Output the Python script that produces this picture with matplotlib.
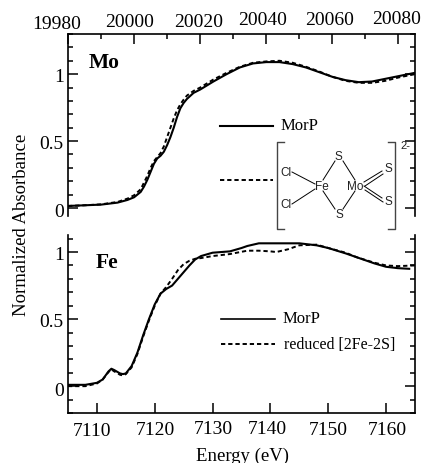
#!/usr/bin/env python3

import matplotlib
matplotlib.use("Agg")
import matplotlib.pyplot as plt
from matplotlib.ticker import MultipleLocator, FixedLocator
from matplotlib.transforms import ScaledTranslation

plt.rcParams["font.family"] = ["Liberation Serif", "DejaVu Serif"]

W, H = 423, 464

# Mo K edge
mo_solid_e = [19980, 19985, 19990, 19995, 19998, 20000, 20002, 20003, 20004, 20005, 20006, 20007, 20008,
              20009, 20010, 20011, 20012, 20013, 20014, 20015, 20016, 20018, 20020, 20024, 20028, 20032,
              20036, 20040, 20044, 20048, 20052, 20056, 20060, 20064, 20068, 20072, 20076, 20080, 20085]
mo_solid_a = [0.015, 0.02, 0.025, 0.04, 0.06, 0.08, 0.12, 0.16, 0.21, 0.27, 0.33, 0.37, 0.39,
              0.42, 0.47, 0.53, 0.60, 0.68, 0.745, 0.785, 0.815, 0.86, 0.885, 0.945, 1.00, 1.05,
              1.08, 1.09, 1.09, 1.075, 1.05, 1.015, 0.98, 0.955, 0.94, 0.945, 0.965, 0.985, 1.01]
mo_dash_e = [19980, 19985, 19990, 19995, 19998, 20000, 20002, 20003, 20004, 20005, 20006, 20007, 20008,
             20009, 20010, 20011, 20012, 20013, 20014, 20015, 20016, 20018, 20020, 20024, 20028, 20032,
             20036, 20040, 20044, 20048, 20052, 20056, 20060, 20064, 20068, 20072, 20076, 20080, 20085]
mo_dash_a = [0.015, 0.02, 0.027, 0.045, 0.07, 0.095, 0.14, 0.19, 0.24, 0.30, 0.35, 0.38, 0.41,
             0.46, 0.53, 0.60, 0.67, 0.73, 0.775, 0.81, 0.84, 0.875, 0.90, 0.96, 1.01, 1.055,
             1.085, 1.095, 1.10, 1.085, 1.055, 1.02, 0.98, 0.95, 0.935, 0.935, 0.95, 0.975, 1.00]

# Fe K edge
fe_solid_e = [7105, 7108, 7110, 7111, 7112, 7112.5, 7113, 7114, 7114.5, 7115, 7116, 7117, 7118, 7119, 7120,
              7121, 7122, 7123, 7124, 7125, 7126, 7127, 7128, 7130, 7133, 7135, 7136, 7138, 7142,
              7145, 7148, 7150, 7153, 7155, 7158, 7160, 7162, 7164]
fe_solid_a = [0.01, 0.01, 0.025, 0.05, 0.11, 0.13, 0.12, 0.095, 0.09, 0.095, 0.15, 0.25, 0.38, 0.50, 0.61,
              0.69, 0.725, 0.75, 0.80, 0.85, 0.90, 0.945, 0.97, 0.995, 1.005, 1.03, 1.045, 1.065, 1.065,
              1.065, 1.05, 1.03, 0.99, 0.96, 0.915, 0.89, 0.88, 0.875]
fe_dash_e = [7105, 7108, 7110, 7111, 7112, 7112.5, 7113, 7114, 7114.5, 7115, 7116, 7117, 7118, 7119, 7120,
             7121, 7122, 7123, 7124, 7125, 7126, 7127, 7128, 7130, 7133, 7136, 7138, 7140, 7141,
             7143, 7145, 7148, 7150, 7153, 7155, 7158, 7160, 7162, 7165]
fe_dash_a = [0.0, 0.0, 0.02, 0.05, 0.105, 0.125, 0.11, 0.085, 0.08, 0.09, 0.14, 0.24, 0.37, 0.49, 0.60,
             0.69, 0.74, 0.80, 0.865, 0.91, 0.935, 0.95, 0.955, 0.97, 0.985, 1.01, 1.01, 1.005, 1.00,
             1.02, 1.05, 1.055, 1.03, 0.995, 0.96, 0.92, 0.90, 0.895, 0.90]

mo_ticks = [19980, 20000, 20020, 20040, 20060, 20080]
mo_tick_labels = ["19980", "20000", "20020", "20040", "20060", "20080"]
mo_label_dx = [-11, -5, -2, -4, -3, -2]
mo_label_dy = [-2, 0, 0, 2, 2, 3]
fe_ticks = [7110, 7120, 7130, 7140, 7150, 7160]
fe_tick_labels = ["7110", "7120", "7130", "7140", "7150", "7160"]
fe_label_dx = [-5, 1, 1, -3, 0, 1]
fe_label_dy = [1, 2, 3, 3, 2, 2]
y_ticks = [0, 0.5, 1]
y_tick_labels = ["0", "0.5", "1"]
y_label_dx = [0, 0, 0]
y_label_dy = [-2, 0, 0]


def px_axes(left, top, right, bottom):
    return [left / W, 1 - bottom / H, (right - left) / W, (bottom - top) / H]


def shift_labels(fig, labels, dxs, dys):
    for lab, dx, dy in zip(labels, dxs, dys):
        lab.set_transform(lab.get_transform() + ScaledTranslation(dx / 100, dy / 100, fig.dpi_scale_trans))


fig = plt.figure(figsize=(W / 100, H / 100), dpi=100)

ax_mo = fig.add_axes(px_axes(68, 35, 415, 217))
ax_fe = fig.add_axes(px_axes(68, 236, 415, 414))

ax_mo.plot(mo_dash_e, mo_dash_a, color="black", lw=1.4, ls=(0, (2.2, 1.5)))
ax_mo.plot(mo_solid_e, mo_solid_a, color="black", lw=1.5)
ax_fe.plot(fe_dash_e, fe_dash_a, color="black", lw=1.4, ls=(0, (2.2, 1.5)))
ax_fe.plot(fe_solid_e, fe_solid_a, color="black", lw=1.5)

ax_mo.set_xlim(19980, 20085)
ax_mo.set_ylim(-0.06, 1.30)
ax_fe.set_xlim(7105, 7165)
ax_fe.set_ylim(-0.2, 1.127)

for ax in (ax_mo, ax_fe):
    ax.yaxis.set_major_locator(FixedLocator(y_ticks))
    ax.set_yticklabels(y_tick_labels)
    ax.yaxis.set_minor_locator(MultipleLocator(0.1))
    ax.tick_params(axis="y", which="major", direction="in", left=True, right=True, length=7.5, width=1.1,
                   labelsize=14, pad=3)
    ax.tick_params(axis="y", which="minor", direction="in", left=True, right=True, length=3.8, width=1.1)
    for s in ax.spines.values():
        s.set_linewidth(1.2)
    shift_labels(fig, ax.get_yticklabels(), y_label_dx, y_label_dy)

ax_mo.spines["bottom"].set_visible(False)
ax_mo.xaxis.tick_top()
ax_mo.set_xticks(mo_ticks)
ax_mo.set_xticklabels(mo_tick_labels)
ax_mo.xaxis.set_minor_locator(MultipleLocator(10))
ax_mo.tick_params(axis="x", which="major", direction="in", length=7.5, width=1.1, labelsize=14, pad=3)
ax_mo.tick_params(axis="x", which="minor", direction="in", length=3.8, width=1.1)
shift_labels(fig, ax_mo.get_xticklabels(), mo_label_dx, mo_label_dy)

ax_fe.spines["top"].set_visible(False)
ax_fe.set_xticks(fe_ticks)
ax_fe.set_xticklabels(fe_tick_labels)
ax_fe.tick_params(axis="x", which="major", direction="in", length=7.5, width=1.1, labelsize=14, pad=7)
shift_labels(fig, ax_fe.get_xticklabels(), fe_label_dx, fe_label_dy)

# overlay in pixel coordinates for labels, hand made legends and the structure
ov = fig.add_axes([0, 0, 1, 1], facecolor="none")
ov.set_xlim(0, W)
ov.set_ylim(H, 0)
ov.axis("off")

ov.text(22, 225, "Normalized Absorbance", rotation=90, ha="center", va="center", fontsize=13.5)
ov.text(242, 456, "Energy (eV)", ha="center", va="center", fontsize=13.5)
ov.text(89, 63, "Mo", ha="left", va="center", fontsize=15.5, fontweight="bold")
ov.text(96, 263, "Fe", ha="left", va="center", fontsize=15.5, fontweight="bold")

dash = (0, (2.2, 1.5))
ov.plot([220, 273], [127, 127], color="black", lw=1.5)
ov.text(281, 126, "MorP", ha="left", va="center", fontsize=12)
ov.plot([220, 273], [181, 181], color="black", lw=1.4, ls=dash)
ov.plot([221, 275], [320, 320], color="black", lw=1.2)
ov.text(283, 319, "MorP", ha="left", va="center", fontsize=12)
ov.plot([221, 275], [345, 345], color="black", lw=1.4, ls=dash)
ov.text(284, 345, "reduced [2Fe-2S]", ha="left", va="center", fontsize=11.5)

# [FeCl2-S2-MoS2] 2- structure
ov.plot([284, 277, 277, 284], [143, 143, 230, 230], color="#444444", lw=1.0)
ov.plot([388, 395, 395, 388], [143, 143, 230, 230], color="#444444", lw=1.0)
bonds = [
    ((292, 173), (315, 185)), ((292, 205), (315, 190)),
    ((323, 181), (335, 162)), ((343, 162), (355, 181)),
    ((323, 192), (335, 210)), ((355, 192), (343, 210)),
    ((364, 183), (382, 172)), ((365, 187), (383, 175)),
    ((364, 187), (382, 199)), ((365, 191), (383, 203)),
]
for a, b in bonds:
    ov.plot([a[0], b[0]], [a[1], b[1]], color="black", lw=0.7)
atoms = [("Cl", 286, 173), ("Cl", 286, 205), ("Fe", 322, 187), ("Mo", 355, 187),
         ("S", 338, 157), ("S", 339, 215), ("S", 388, 169), ("S", 388, 202)]
for name, x, y in atoms:
    ov.text(x, y, name, ha="center", va="center", fontsize=8.5, family="Liberation Sans", color="#222222")
ov.text(405, 146, "2-", ha="center", va="center", fontsize=8, family="Liberation Sans", color="#222222")

fig.savefig("out.png", dpi=100)
